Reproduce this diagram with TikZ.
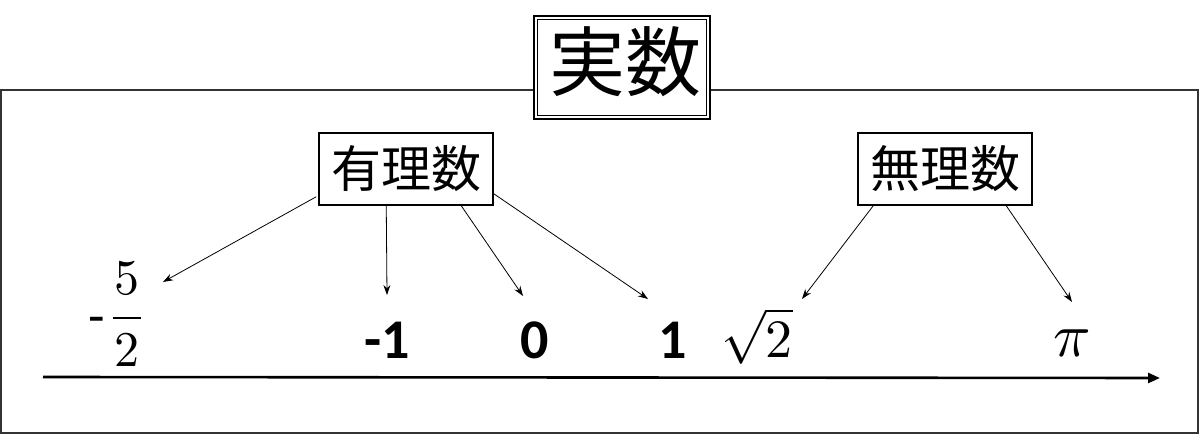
\documentclass[tikz,border=0pt]{standalone}
\usepackage{fontspec}
\usepackage{unicode-math}
\setmathfont{Latin Modern Math}
\setmainfont{Carlito}
\newfontfamily\jp{Noto Sans CJK JP}
\usetikzlibrary{arrows.meta,calc}
\begin{document}
\begin{tikzpicture}[x=1pt,y=-1pt,
  box/.style={draw, line width=1.5pt, fill=white, inner sep=0pt,
    minimum width=174pt, minimum height=72pt, font=\jp\fontsize{50}{50}\selectfont},
  arr/.style={-{Stealth[length=10pt,width=7pt]}, line width=0.8pt},
  num/.style={font=\fontsize{56}{56}\selectfont\bfseries, inner sep=0pt},
  mth/.style={font=\fontsize{50}{50}\selectfont, inner sep=0pt}]
\useasboundingbox (0,0) rectangle (1200,435);
% outer frame
\draw[line width=1.3pt, black!80] (1,90) rectangle (1198,433);
% title box
\node[draw, line width=1.2pt, fill=white, inner sep=0pt,
  minimum width=176pt, minimum height=103pt] (real) at (622,67.5) {};
\draw[line width=1.2pt] ($(real.south west)+(4,-4)$) rectangle ($(real.north east)+(-4,4)$);
\node[font=\jp\fontsize{76}{76}\selectfont, inner sep=0pt] (realtxt) at (625,62) {実数};
% category boxes
\node[box] (rat) at (406,169) {有理数};
\node[box] (irr) at (945,169) {無理数};
% labels
\node[font=\fontsize{54}{54}\selectfont, inner sep=0pt] (minus) at (97,326) {-};
\node[mth] (five) at (127,278) {$5$};
\node[mth] (two) at (127,350) {$2$};
\draw[line width=1.8pt] (113,318) -- (141,318);
\node[num] (m1) at (387,340) {-1};
\node[num] (zero) at (535,340) {0};
\node[num] (one) at (673,340) {1};
\node[font=\fontsize{54}{54}\selectfont, inner sep=0pt] (sq) at (757,336) {$\sqrt{2}$};
\node[font=\fontsize{62}{62}\selectfont, inner sep=0pt] (pi) at (1072,343) {$\pi$};
% arrow tips
\coordinate (t1) at (163,282);
\coordinate (t2) at (387,295);
\coordinate (t3) at (523,296);
\coordinate (t4) at (648,299);
\coordinate (t5) at (802,299);
\coordinate (t6) at (1072,302);
\draw[arr] ($(rat.south west)+(-2,-9)$) -- (t1);
\draw[arr] ($(rat.south west)+(68,0)$) -- (t2);
\draw[arr] ($(rat.south west)+(143,0)$) -- (t3);
\draw[arr] ($(rat.south east)+(0,-12)$) -- (t4);
\draw[arr] ($(irr.south west)+(16,0)$) -- (t5);
\draw[arr] ($(irr.south west)+(149,0)$) -- (t6);
% axis
\coordinate (axL) at (43,377);
\coordinate (axR) at (1160,378);
\draw[line width=2.6pt, -{Triangle[length=12pt,width=10pt]}] (axL) -- (axR);
\end{tikzpicture}
\end{document}
